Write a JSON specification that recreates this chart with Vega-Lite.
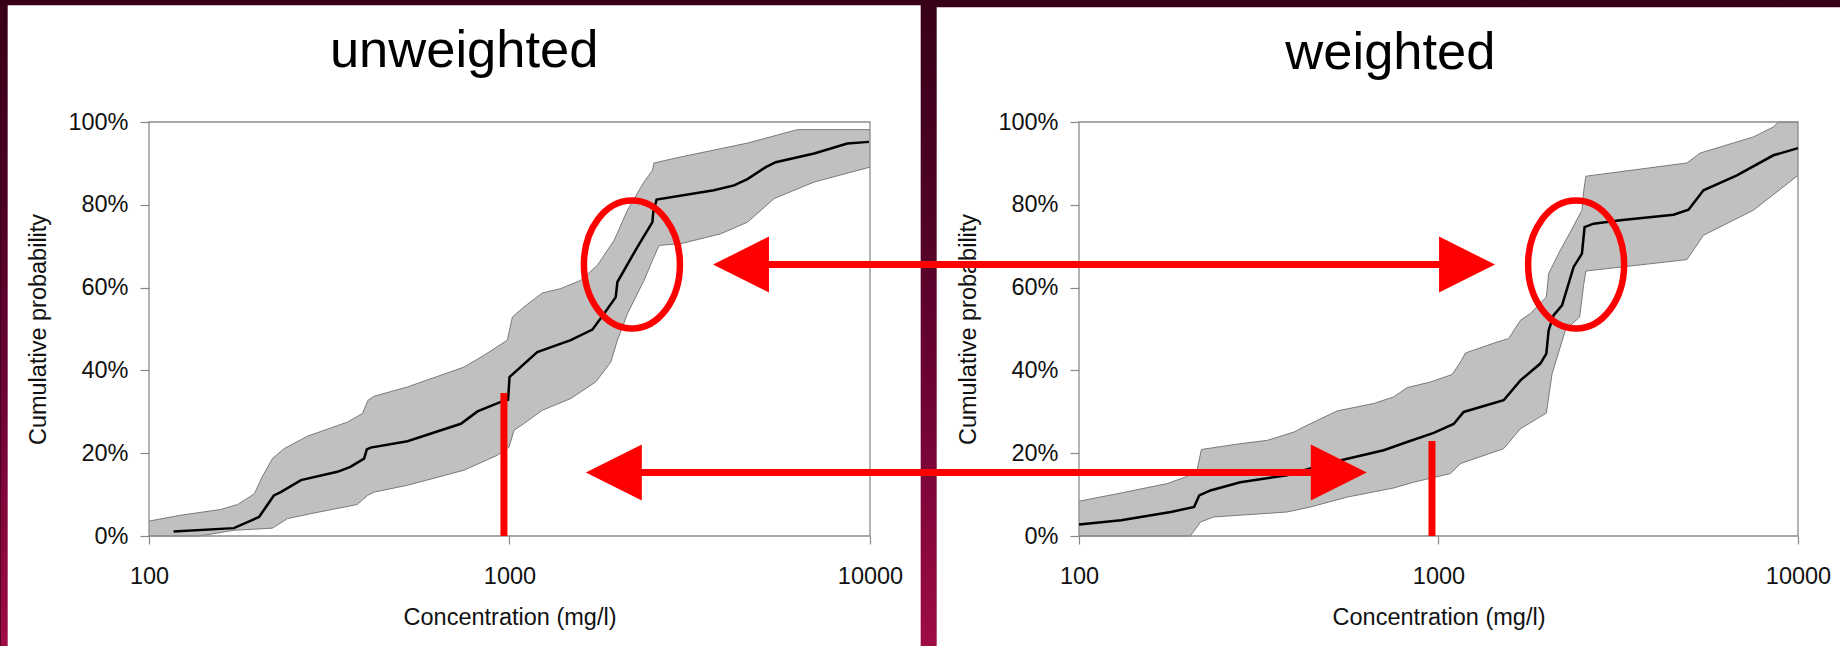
{
  "$schema": "https://vega.github.io/schema/vega-lite/v6.json",
  "padding": 0,
  "background": "#3a0019",
  "bounds": "flush",
  "spacing": 209,
  "config": {
    "view": {"stroke": null},
    "font": "Liberation Sans",
    "axis": {"labelFont": "Liberation Sans", "labelFontSize": 23.5, "labelColor": "#111111", "titleFont": "Liberation Sans", "titleFontSize": 23.5, "titleFontWeight": "normal", "titleColor": "#111111", "tickColor": "#888888", "tickWidth": 1.2, "grid": false, "domain": false, "labelOverlap": false, "labelFlush": false}
  },
  "datasets": {
    "lc": [{"conc":117,"prob":0.011},{"conc":172,"prob":0.019},{"conc":202,"prob":0.046},{"conc":222,"prob":0.098},{"conc":232,"prob":0.106},{"conc":264,"prob":0.135},{"conc":333,"prob":0.155},{"conc":362,"prob":0.167},{"conc":395,"prob":0.187},{"conc":402,"prob":0.209},{"conc":412,"prob":0.2135},{"conc":521,"prob":0.229},{"conc":733,"prob":0.271},{"conc":815,"prob":0.301},{"conc":946,"prob":0.324},{"conc":991,"prob":0.329},{"conc":1000,"prob":0.384},{"conc":1194,"prob":0.444},{"conc":1479,"prob":0.473},{"conc":1698,"prob":0.4985},{"conc":1829,"prob":0.537},{"conc":1971,"prob":0.577},{"conc":1992,"prob":0.6135},{"conc":2263,"prob":0.698},{"conc":2491,"prob":0.758},{"conc":2506,"prob":0.784},{"conc":2559,"prob":0.8125},{"conc":3690,"prob":0.835},{"conc":4195,"prob":0.847},{"conc":4571,"prob":0.862},{"conc":5140,"prob":0.891},{"conc":5476,"prob":0.903},{"conc":6998,"prob":0.924},{"conc":8650,"prob":0.948},{"conc":9931,"prob":0.952}],
    "lu": [{"conc":100,"prob":0.036},{"conc":122,"prob":0.05},{"conc":158,"prob":0.064},{"conc":176,"prob":0.076},{"conc":196,"prob":0.102},{"conc":206,"prob":0.1425},{"conc":220,"prob":0.187},{"conc":237,"prob":0.211},{"conc":275,"prob":0.241},{"conc":355,"prob":0.275},{"conc":391,"prob":0.296},{"conc":405,"prob":0.328},{"conc":421,"prob":0.3375},{"conc":521,"prob":0.36},{"conc":748,"prob":0.408},{"conc":850,"prob":0.4365},{"conc":986,"prob":0.473},{"conc":1019,"prob":0.529},{"conc":1096,"prob":0.553},{"conc":1233,"prob":0.587},{"conc":1387,"prob":0.5975},{"conc":1576,"prob":0.6176},{"conc":1753,"prob":0.654},{"conc":1950,"prob":0.714},{"conc":2124,"prob":0.787},{"conc":2361,"prob":0.855},{"conc":2491,"prob":0.883},{"conc":2516,"prob":0.901},{"conc":2985,"prob":0.9155},{"conc":4571,"prob":0.949},{"conc":6295,"prob":0.9816},{"conc":10000,"prob":0.9816}],
    "ll": [{"conc":100,"prob":0},{"conc":138,"prob":0},{"conc":172,"prob":0.0138},{"conc":220,"prob":0.019},{"conc":242,"prob":0.042},{"conc":281,"prob":0.054},{"conc":378,"prob":0.076},{"conc":404,"prob":0.098},{"conc":421,"prob":0.106},{"conc":521,"prob":0.1225},{"conc":748,"prob":0.159},{"conc":925,"prob":0.195},{"conc":997,"prob":0.215},{"conc":1029,"prob":0.255},{"conc":1096,"prob":0.2715},{"conc":1233,"prob":0.3036},{"conc":1479,"prob":0.332},{"conc":1734,"prob":0.372},{"conc":1910,"prob":0.42},{"conc":1992,"prob":0.473},{"conc":2124,"prob":0.537},{"conc":2361,"prob":0.6176},{"conc":2516,"prob":0.674},{"conc":2600,"prob":0.702},{"conc":2985,"prob":0.706},{"conc":3855,"prob":0.73},{"conc":4571,"prob":0.758},{"conc":5420,"prob":0.815},{"conc":6998,"prob":0.855},{"conc":10000,"prob":0.891}],
    "rc": [{"conc":100,"prob":0.0275},{"conc":131,"prob":0.038},{"conc":180,"prob":0.058},{"conc":209,"prob":0.07},{"conc":216,"prob":0.098},{"conc":232,"prob":0.11},{"conc":281,"prob":0.13},{"conc":379,"prob":0.1466},{"conc":490,"prob":0.175},{"conc":704,"prob":0.207},{"conc":818,"prob":0.227},{"conc":970,"prob":0.249},{"conc":1102,"prob":0.2705},{"conc":1175,"prob":0.2996},{"conc":1518,"prob":0.328},{"conc":1690,"prob":0.376},{"conc":1920,"prob":0.4165},{"conc":1995,"prob":0.4405},{"conc":2025,"prob":0.497},{"conc":2089,"prob":0.533},{"conc":2206,"prob":0.557},{"conc":2376,"prob":0.65},{"conc":2506,"prob":0.682},{"conc":2549,"prob":0.746},{"conc":2700,"prob":0.7545},{"conc":3203,"prob":0.7626},{"conc":4505,"prob":0.776},{"conc":4960,"prob":0.788},{"conc":5458,"prob":0.835},{"conc":6761,"prob":0.871},{"conc":8543,"prob":0.9196},{"conc":10000,"prob":0.937}],
    "ru": [{"conc":100,"prob":0.084},{"conc":131,"prob":0.104},{"conc":176,"prob":0.1266},{"conc":200,"prob":0.144},{"conc":213,"prob":0.159},{"conc":219,"prob":0.209},{"conc":281,"prob":0.223},{"conc":334,"prob":0.231},{"conc":396,"prob":0.251},{"conc":431,"prob":0.2674},{"conc":522,"prob":0.302},{"conc":660,"prob":0.32},{"conc":751,"prob":0.336},{"conc":818,"prob":0.3584},{"conc":950,"prob":0.372},{"conc":1091,"prob":0.39},{"conc":1151,"prob":0.42},{"conc":1188,"prob":0.442},{"conc":1455,"prob":0.4686},{"conc":1567,"prob":0.4768},{"conc":1690,"prob":0.521},{"conc":1800,"prob":0.537},{"conc":1995,"prob":0.577},{"conc":2025,"prob":0.634},{"conc":2181,"prob":0.69},{"conc":2326,"prob":0.734},{"conc":2506,"prob":0.787},{"conc":2533,"prob":0.831},{"conc":2570,"prob":0.869},{"conc":4909,"prob":0.901},{"conc":5345,"prob":0.925},{"conc":7516,"prob":0.964},{"conc":8543,"prob":0.988},{"conc":8822,"prob":1.0},{"conc":10000,"prob":1.0}],
    "rl": [{"conc":100,"prob":0},{"conc":204,"prob":0},{"conc":218,"prob":0.034},{"conc":237,"prob":0.046},{"conc":379,"prob":0.058},{"conc":440,"prob":0.07},{"conc":557,"prob":0.094},{"conc":751,"prob":0.116},{"conc":853,"prob":0.13},{"conc":1079,"prob":0.1507},{"conc":1151,"prob":0.175},{"conc":1518,"prob":0.211},{"conc":1690,"prob":0.259},{"conc":1995,"prob":0.297},{"conc":2070,"prob":0.392},{"conc":2254,"prob":0.497},{"conc":2469,"prob":0.529},{"conc":2533,"prob":0.6056},{"conc":2570,"prob":0.64},{"conc":4909,"prob":0.6676},{"conc":5458,"prob":0.7263},{"conc":7516,"prob":0.787},{"conc":10000,"prob":0.871}]
  },
  "hconcat": [
    {
      "width": 721,
      "height": 414,
      "layer": [
        {
          "data": {"values": [{}]},
          "mark": {"type": "rect", "fill": {"gradient": "linear", "x1": 0, "y1": 0, "x2": 0, "y2": 1, "stops": [{"offset": 0, "color": "#380018"}, {"offset": 0.3, "color": "#4c0224"}, {"offset": 0.6, "color": "#6c0234"}, {"offset": 1, "color": "#9e0c45"}]}, "strokeWidth": 0},
          "encoding": {
            "x": {"datum": 38.78, "type": "quantitative", "scale": {"type": "log", "domain": [100, 10000], "nice": false}},
            "x2": {"datum": 4927300},
            "y": {"datum": 1.293961, "type": "quantitative", "scale": {"domain": [0, 1], "nice": false, "zero": false}},
            "y2": {"datum": -0.266425}
          }
        },
        {
          "data": {"values": [{}]},
          "mark": {"type": "rect", "fill": "#ffffff", "strokeWidth": 0},
          "encoding": {
            "x": {"datum": 40.55, "type": "quantitative", "scale": {"type": "log", "domain": [100, 10000], "nice": false}},
            "x2": {"datum": 13823},
            "y": {"datum": 1.281884, "type": "quantitative", "scale": {"domain": [0, 1], "nice": false, "zero": false}},
            "y2": {"datum": -0.266425}
          }
        },
        {
          "data": {"values": [{}]},
          "mark": {"type": "rect", "fill": "#ffffff", "strokeWidth": 0},
          "encoding": {
            "x": {"datum": 15310, "type": "quantitative", "scale": {"type": "log", "domain": [100, 10000], "nice": false}},
            "x2": {"datum": 4927300},
            "y": {"datum": 1.277053, "type": "quantitative", "scale": {"domain": [0, 1], "nice": false, "zero": false}},
            "y2": {"datum": -0.266425}
          }
        },
        {
          "data": {"values": [{}]},
          "mark": {"type": "text", "text": "unweighted", "font": "Liberation Sans", "fontSize": 52.5, "color": "#000000", "align": "center", "baseline": "alphabetic"},
          "encoding": {
            "x": {"datum": 748.6, "type": "quantitative", "scale": {"type": "log", "domain": [100, 10000], "nice": false}},
            "y": {"datum": 1.13213, "type": "quantitative", "scale": {"domain": [0, 1], "nice": false, "zero": false}}
          }
        },
        {
          "data": {"name": "lu"},
          "mark": {"type": "area", "fill": "#c0c0c0", "strokeWidth": 0},
          "encoding": {
            "x": {"field": "conc", "type": "quantitative", "scale": {"type": "log", "domain": [100, 10000], "nice": false}, "axis": {"title": "Concentration (mg/l)", "values": [100, 1000, 10000], "format": "d", "tickSize": 8, "labelPadding": 20.5, "titlePadding": 17, "zindex": 1}},
            "y": {"field": "prob", "type": "quantitative", "scale": {"domain": [0, 1], "nice": false, "zero": false}, "axis": {"title": "Cumulative probability", "values": [0, 0.2, 0.4, 0.6, 0.8, 1], "format": ".0%", "tickSize": 9, "labelPadding": 12, "titlePadding": 17, "zindex": 1}},
            "y2": {"datum": 0}
          }
        },
        {
          "data": {"name": "ll"},
          "mark": {"type": "area", "fill": "#ffffff", "strokeWidth": 0},
          "encoding": {
            "x": {"field": "conc", "type": "quantitative", "scale": {"type": "log", "domain": [100, 10000], "nice": false}},
            "y": {"field": "prob", "type": "quantitative", "scale": {"domain": [0, 1], "nice": false, "zero": false}},
            "y2": {"datum": 0}
          }
        },
        {
          "data": {"name": "lu"},
          "mark": {"type": "line", "stroke": "#7a7a7a", "strokeWidth": 1},
          "encoding": {
            "x": {"field": "conc", "type": "quantitative", "scale": {"type": "log", "domain": [100, 10000], "nice": false}},
            "y": {"field": "prob", "type": "quantitative", "scale": {"domain": [0, 1], "nice": false, "zero": false}}
          }
        },
        {
          "data": {"name": "ll"},
          "mark": {"type": "line", "stroke": "#7a7a7a", "strokeWidth": 1},
          "encoding": {
            "x": {"field": "conc", "type": "quantitative", "scale": {"type": "log", "domain": [100, 10000], "nice": false}},
            "y": {"field": "prob", "type": "quantitative", "scale": {"domain": [0, 1], "nice": false, "zero": false}}
          }
        },
        {
          "data": {"values": [{}]},
          "mark": {"type": "rect", "filled": false, "fill": null, "stroke": "#8c8c8c", "strokeWidth": 1.3},
          "encoding": {
            "x": {"datum": 100, "type": "quantitative", "scale": {"type": "log", "domain": [100, 10000], "nice": false}},
            "x2": {"datum": 10000},
            "y": {"datum": 0, "type": "quantitative", "scale": {"domain": [0, 1], "nice": false, "zero": false}},
            "y2": {"datum": 1}
          }
        },
        {
          "data": {"name": "lc"},
          "mark": {"type": "line", "stroke": "#000000", "strokeWidth": 2.5},
          "encoding": {
            "x": {"field": "conc", "type": "quantitative", "scale": {"type": "log", "domain": [100, 10000], "nice": false}},
            "y": {"field": "prob", "type": "quantitative", "scale": {"domain": [0, 1], "nice": false, "zero": false}}
          }
        },
        {
          "data": {"values": [{}]},
          "mark": {"type": "rule", "stroke": "#ff0000", "strokeWidth": 7},
          "encoding": {
            "x": {"datum": 965, "type": "quantitative", "scale": {"type": "log", "domain": [100, 10000], "nice": false}},
            "y": {"datum": 0, "type": "quantitative", "scale": {"domain": [0, 1], "nice": false, "zero": false}},
            "y2": {"datum": 0.3454}
          }
        },
        {
          "data": {"values": [{}]},
          "mark": {"type": "point", "shape": "M0.75,0C0.75,0.5523,0.4142,1,0,1C-0.4142,1,-0.75,0.5523,-0.75,0C-0.75,-0.5523,-0.4142,-1,0,-1C0.4142,-1,0.75,-0.5523,0.75,0Z", "size": 16384, "filled": false, "stroke": "#ff0000", "strokeWidth": 6.5, "opacity": 1},
          "encoding": {
            "x": {"datum": 2185.8, "type": "quantitative", "scale": {"type": "log", "domain": [100, 10000], "nice": false}},
            "y": {"datum": 0.6558, "type": "quantitative", "scale": {"domain": [0, 1], "nice": false, "zero": false}}
          }
        }
      ]
    },
    {
      "width": 719,
      "height": 414,
      "layer": [
        {
          "data": {"values": [{}]},
          "mark": {"type": "text", "text": "weighted", "font": "Liberation Sans", "fontSize": 52.5, "color": "#000000", "align": "center", "baseline": "alphabetic"},
          "encoding": {
            "x": {"datum": 735.0, "type": "quantitative", "scale": {"type": "log", "domain": [100, 10000], "nice": false}},
            "y": {"datum": 1.12729, "type": "quantitative", "scale": {"domain": [0, 1], "nice": false, "zero": false}}
          }
        },
        {
          "data": {"name": "ru"},
          "mark": {"type": "area", "fill": "#c0c0c0", "strokeWidth": 0},
          "encoding": {
            "x": {"field": "conc", "type": "quantitative", "scale": {"type": "log", "domain": [100, 10000], "nice": false}, "axis": {"title": "Concentration (mg/l)", "values": [100, 1000, 10000], "format": "d", "tickSize": 8, "labelPadding": 20.5, "titlePadding": 17, "zindex": 0}},
            "y": {"field": "prob", "type": "quantitative", "scale": {"domain": [0, 1], "nice": false, "zero": false}, "axis": {"title": "Cumulative probability", "values": [0, 0.2, 0.4, 0.6, 0.8, 1], "format": ".0%", "tickSize": 9, "labelPadding": 12, "titlePadding": 17, "zindex": 0}},
            "y2": {"datum": 0}
          }
        },
        {
          "data": {"name": "rl"},
          "mark": {"type": "area", "fill": "#ffffff", "strokeWidth": 0},
          "encoding": {
            "x": {"field": "conc", "type": "quantitative", "scale": {"type": "log", "domain": [100, 10000], "nice": false}},
            "y": {"field": "prob", "type": "quantitative", "scale": {"domain": [0, 1], "nice": false, "zero": false}},
            "y2": {"datum": 0}
          }
        },
        {
          "data": {"name": "ru"},
          "mark": {"type": "line", "stroke": "#7a7a7a", "strokeWidth": 1},
          "encoding": {
            "x": {"field": "conc", "type": "quantitative", "scale": {"type": "log", "domain": [100, 10000], "nice": false}},
            "y": {"field": "prob", "type": "quantitative", "scale": {"domain": [0, 1], "nice": false, "zero": false}}
          }
        },
        {
          "data": {"name": "rl"},
          "mark": {"type": "line", "stroke": "#7a7a7a", "strokeWidth": 1},
          "encoding": {
            "x": {"field": "conc", "type": "quantitative", "scale": {"type": "log", "domain": [100, 10000], "nice": false}},
            "y": {"field": "prob", "type": "quantitative", "scale": {"domain": [0, 1], "nice": false, "zero": false}}
          }
        },
        {
          "data": {"values": [{}]},
          "mark": {"type": "rect", "filled": false, "fill": null, "stroke": "#8c8c8c", "strokeWidth": 1.3},
          "encoding": {
            "x": {"datum": 100, "type": "quantitative", "scale": {"type": "log", "domain": [100, 10000], "nice": false}},
            "x2": {"datum": 10000},
            "y": {"datum": 0, "type": "quantitative", "scale": {"domain": [0, 1], "nice": false, "zero": false}},
            "y2": {"datum": 1}
          }
        },
        {
          "data": {"name": "rc"},
          "mark": {"type": "line", "stroke": "#000000", "strokeWidth": 2.5},
          "encoding": {
            "x": {"field": "conc", "type": "quantitative", "scale": {"type": "log", "domain": [100, 10000], "nice": false}},
            "y": {"field": "prob", "type": "quantitative", "scale": {"domain": [0, 1], "nice": false, "zero": false}}
          }
        },
        {
          "data": {"values": [{}]},
          "mark": {"type": "rule", "stroke": "#ff0000", "strokeWidth": 7},
          "encoding": {
            "x": {"datum": 959, "type": "quantitative", "scale": {"type": "log", "domain": [100, 10000], "nice": false}},
            "y": {"datum": 0, "type": "quantitative", "scale": {"domain": [0, 1], "nice": false, "zero": false}},
            "y2": {"datum": 0.2295}
          }
        },
        {
          "data": {"values": [{}]},
          "mark": {"type": "point", "shape": "M0.75,0C0.75,0.5523,0.4142,1,0,1C-0.4142,1,-0.75,0.5523,-0.75,0C-0.75,-0.5523,-0.4142,-1,0,-1C0.4142,-1,0.75,-0.5523,0.75,0Z", "size": 16384, "filled": false, "stroke": "#ff0000", "strokeWidth": 6.5, "opacity": 1},
          "encoding": {
            "x": {"datum": 2414.2, "type": "quantitative", "scale": {"type": "log", "domain": [100, 10000], "nice": false}},
            "y": {"datum": 0.6558, "type": "quantitative", "scale": {"domain": [0, 1], "nice": false, "zero": false}}
          }
        },
        {
          "data": {"values": [{}]},
          "mark": {"type": "rule", "stroke": "#ff0000", "strokeWidth": 7},
          "encoding": {
            "x": {"datum": 11.475, "type": "quantitative", "scale": {"type": "log", "domain": [100, 10000], "nice": false}},
            "x2": {"datum": 1200.8},
            "y": {"datum": 0.65556, "type": "quantitative", "scale": {"domain": [0, 1], "nice": false, "zero": false}}
          }
        },
        {
          "data": {"values": [{}]},
          "mark": {"type": "rule", "stroke": "#ff0000", "strokeWidth": 7},
          "encoding": {
            "x": {"datum": 5.0814, "type": "quantitative", "scale": {"type": "log", "domain": [100, 10000], "nice": false}},
            "x2": {"datum": 528.1},
            "y": {"datum": 0.15314, "type": "quantitative", "scale": {"domain": [0, 1], "nice": false, "zero": false}}
          }
        },
        {
          "data": {"values": [{}]},
          "mark": {"type": "point", "shape": "M-1,0L1,-1L1,1Z", "size": 3136, "filled": true, "fill": "#ff0000", "strokeWidth": 0, "opacity": 1},
          "encoding": {
            "x": {"datum": 11.475, "type": "quantitative", "scale": {"type": "log", "domain": [100, 10000], "nice": false}},
            "y": {"datum": 0.65556, "type": "quantitative", "scale": {"domain": [0, 1], "nice": false, "zero": false}}
          }
        },
        {
          "data": {"values": [{}]},
          "mark": {"type": "point", "shape": "M1,0L-1,-1L-1,1Z", "size": 3136, "filled": true, "fill": "#ff0000", "strokeWidth": 0, "opacity": 1},
          "encoding": {
            "x": {"datum": 1200.8, "type": "quantitative", "scale": {"type": "log", "domain": [100, 10000], "nice": false}},
            "y": {"datum": 0.65556, "type": "quantitative", "scale": {"domain": [0, 1], "nice": false, "zero": false}}
          }
        },
        {
          "data": {"values": [{}]},
          "mark": {"type": "point", "shape": "M-1,0L1,-1L1,1Z", "size": 3136, "filled": true, "fill": "#ff0000", "strokeWidth": 0, "opacity": 1},
          "encoding": {
            "x": {"datum": 5.0814, "type": "quantitative", "scale": {"type": "log", "domain": [100, 10000], "nice": false}},
            "y": {"datum": 0.15314, "type": "quantitative", "scale": {"domain": [0, 1], "nice": false, "zero": false}}
          }
        },
        {
          "data": {"values": [{}]},
          "mark": {"type": "point", "shape": "M1,0L-1,-1L-1,1Z", "size": 3136, "filled": true, "fill": "#ff0000", "strokeWidth": 0, "opacity": 1},
          "encoding": {
            "x": {"datum": 528.1, "type": "quantitative", "scale": {"type": "log", "domain": [100, 10000], "nice": false}},
            "y": {"datum": 0.15314, "type": "quantitative", "scale": {"domain": [0, 1], "nice": false, "zero": false}}
          }
        }
      ]
    }
  ]
}
